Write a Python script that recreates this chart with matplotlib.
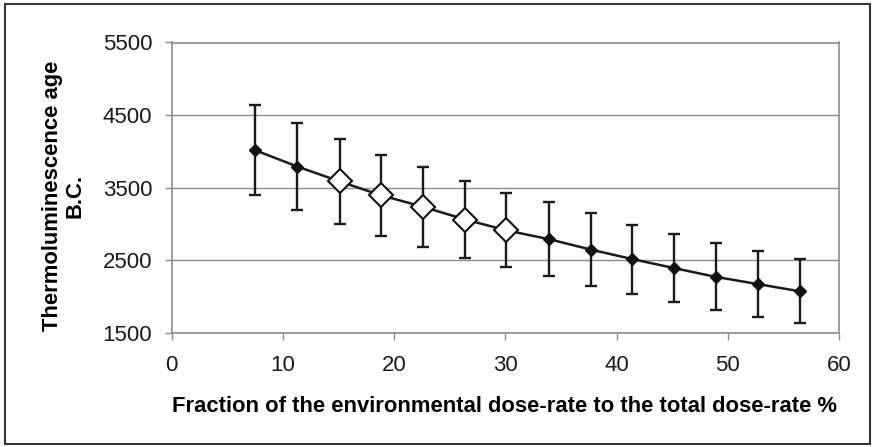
"""TL age vs environmental dose-rate fraction, Excel-style chart."""
import matplotlib
matplotlib.use("Agg")
import matplotlib.pyplot as plt
from matplotlib.patches import Rectangle

# data
fraction = [7.5, 11.3, 15.1, 18.8, 22.6, 26.4, 30.1, 33.9, 37.7, 41.4, 45.2, 48.9, 52.7, 56.5]
age = [4015, 3790, 3585, 3395, 3235, 3060, 2910, 2790, 2645, 2515, 2390, 2270, 2170, 2070]
err = [620, 595, 582, 560, 550, 535, 510, 510, 500, 475, 470, 460, 450, 440]
open_idx = [2, 3, 4, 5, 6]

x_ticks = [0, 10, 20, 30, 40, 50, 60]
y_ticks = [1500, 2500, 3500, 4500, 5500]

plt.rcParams["font.family"] = ["Liberation Sans", "DejaVu Sans"]

W, H = 873, 447
fig = plt.figure(figsize=(W / 100, H / 100), dpi=100)
fig.patch.set_facecolor("white")
ax = fig.add_axes([171.7 / W, 1 - 332.7 / H, (839 - 171.7) / W, (332.7 - 42.5) / H])

# whole-chart border
fig.add_artist(Rectangle((5 / W, 1 - 444 / H), (870 - 5) / W, (444 - 4) / H,
                         transform=fig.transFigure, fill=False,
                         edgecolor="#333333", linewidth=1.5))

ax.errorbar(fraction, age, yerr=err, fmt="none", ecolor="#1a1a1a",
            elinewidth=1.7, capsize=4.3, capthick=1.7, zorder=2)
ax.plot(fraction, age, color="#1a1a1a", linewidth=1.8, zorder=3)

filled_x = [f for i, f in enumerate(fraction) if i not in open_idx]
filled_y = [a for i, a in enumerate(age) if i not in open_idx]
ax.plot(filled_x, filled_y, "D", color="#111111", markersize=6, linestyle="none", zorder=4)
ax.plot([fraction[i] for i in open_idx], [age[i] for i in open_idx], "D",
        markerfacecolor="white", markeredgecolor="#111111", markeredgewidth=1.5,
        markersize=12.5, linestyle="none", zorder=4)

ax.set_xlim(0, 60)
ax.set_ylim(1500, 5500)
ax.set_xticks(x_ticks)
ax.set_yticks(y_ticks)
ax.yaxis.grid(True, color="#8c8c8c", linewidth=1.0)
ax.set_axisbelow(True)
for s in ax.spines.values():
    s.set_color("#8c8c8c")
    s.set_linewidth(1.2)
ax.tick_params(axis="both", colors="#8c8c8c", length=5, width=1.0, labelsize=16,
               labelcolor="#1a1a1a", direction="out")
ax.tick_params(axis="x", pad=11)
ax.tick_params(axis="y", pad=9)

ax.set_xlabel("Fraction of the environmental dose-rate to the total dose-rate %",
              fontsize=15.8, fontweight="bold")
ax.xaxis.set_label_coords((505 - 171.7) / 667.3, (332.7 - 406) / 290.2)
ax.xaxis.label.set_va("center")

ax.set_ylabel("Thermoluminescence age\nB.C.", fontsize=15.8, fontweight="bold",
              linespacing=1.12)
ax.yaxis.set_label_coords((64 - 171.7) / 667.3, (332.7 - 195.5) / 290.2)
ax.yaxis.label.set_va("center")
ax.yaxis.label.set_ha("center")

fig.savefig("out.png", dpi=100, facecolor="white")
